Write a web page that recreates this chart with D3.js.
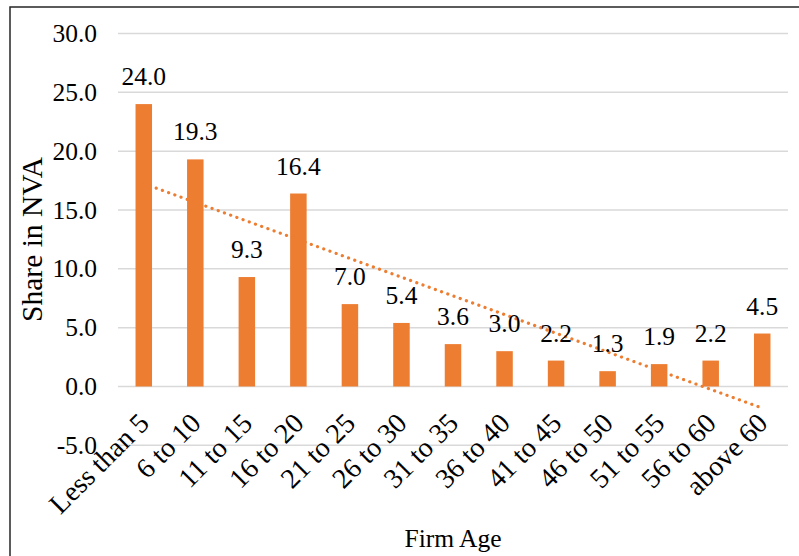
<!DOCTYPE html>
<html>
<head>
<meta charset="utf-8">
<script src="https://cdn.jsdelivr.net/npm/d3@7/dist/d3.min.js"></script>
<style>
  html, body { margin: 0; padding: 0; background: #fff; }
  svg { display: block; }
</style>
</head>
<body>
<svg id="chart" width="799" height="556"></svg>
<script>
const categories = ["Less than 5", "6 to 10", "11 to 15", "16 to 20", "21 to 25", "26 to 30",
  "31 to 35", "36 to 40", "41 to 45", "46 to 50", "51 to 55", "56 to 60", "above 60"];
const shareNVA = [24.0, 19.3, 9.3, 16.4, 7.0, 5.4, 3.6, 3.0, 2.2, 1.3, 1.9, 2.2, 4.5];
const yTicks = [-5, 0, 5, 10, 15, 20, 25, 30];
const yTitle = "Share in NVA";
const xTitle = "Firm Age";

(function () {
const FONT = "'Liberation Serif', 'Times New Roman', serif";
const svg = d3.select("#chart").style("font-family", FONT);
const pL = 118, pR = 788, pT = 33.5, pB = 445.3;
const orange = "#ED7D31";
const fmt = v => v.toFixed(1);

function styleText(sel, size) {
  return sel.style("font-family", FONT).style("font-size", size + "px").attr("fill", "#000");
}

// outer frame (extends beyond right and bottom edges)
svg.append("rect").attr("x", 10).attr("y", 7).attr("width", 820).attr("height", 600)
  .attr("fill", "none").attr("stroke", "#262626").attr("stroke-width", 1.5);

const x = d3.scaleBand().domain(categories).range([pL, pR]).paddingInner(0.68).paddingOuter(0.34);
const y = d3.scaleLinear().domain([-5, 30]).range([pB, pT]);

// gridlines
svg.append("g").selectAll("line").data(yTicks).join("line")
  .attr("x1", pL).attr("x2", pR)
  .attr("y1", d => y(d)).attr("y2", d => y(d))
  .attr("stroke", "#D9D9D9").attr("stroke-width", 1.5);

// y axis labels
const yAxis = d3.axisLeft(y).tickValues(yTicks).tickFormat(fmt).tickSize(0).tickPadding(21);
const yg = svg.append("g").attr("transform", `translate(${pL},0)`).call(yAxis);
yg.attr("font-family", null).attr("font-size", null);
yg.select(".domain").remove();
styleText(yg.selectAll("text"), 25.5);

// bars
svg.append("g").selectAll("rect").data(shareNVA).join("rect")
  .attr("x", (d, i) => x(categories[i]))
  .attr("width", x.bandwidth())
  .attr("y", d => y(Math.max(0, d)))
  .attr("height", d => Math.abs(y(d) - y(0)))
  .attr("fill", orange);

// linear trendline (least squares over category index)
const n = shareNVA.length;
const xs = d3.range(1, n + 1);
const mx = d3.mean(xs), my = d3.mean(shareNVA);
const slope = d3.sum(xs, (v, i) => (v - mx) * (shareNVA[i] - my)) / d3.sum(xs, v => (v - mx) ** 2);
const icpt = my - slope * mx;
const cx = i => x(categories[i]) + x.bandwidth() / 2;
svg.append("line")
  .attr("x1", cx(0)).attr("y1", y(icpt + slope * 1))
  .attr("x2", cx(n - 1)).attr("y2", y(icpt + slope * n))
  .attr("stroke", orange).attr("stroke-width", 3.2)
  .attr("stroke-linecap", "round").attr("stroke-dasharray", "0.1 6.5");

// data labels
styleText(svg.append("g").selectAll("text").data(shareNVA).join("text")
  .attr("x", (d, i) => cx(i))
  .attr("y", d => y(d) - 19)
  .attr("text-anchor", "middle")
  .text(fmt), 25.5);

// x category labels rotated
styleText(svg.append("g").selectAll("text").data(categories).join("text")
  .attr("text-anchor", "end")
  .attr("transform", (d, i) => `translate(${cx(i) + 7},${y(0) + 38.5}) rotate(-45)`)
  .text(d => d), 28);

// axis titles
styleText(svg.append("text")
  .attr("transform", `translate(42,${(pT + pB) / 2}) rotate(-90)`)
  .attr("text-anchor", "middle")
  .text(yTitle), 29.5);

styleText(svg.append("text")
  .attr("x", (pL + pR) / 2).attr("y", 547)
  .attr("text-anchor", "middle")
  .text(xTitle), 25.5);
})();
</script>
</body>
</html>
